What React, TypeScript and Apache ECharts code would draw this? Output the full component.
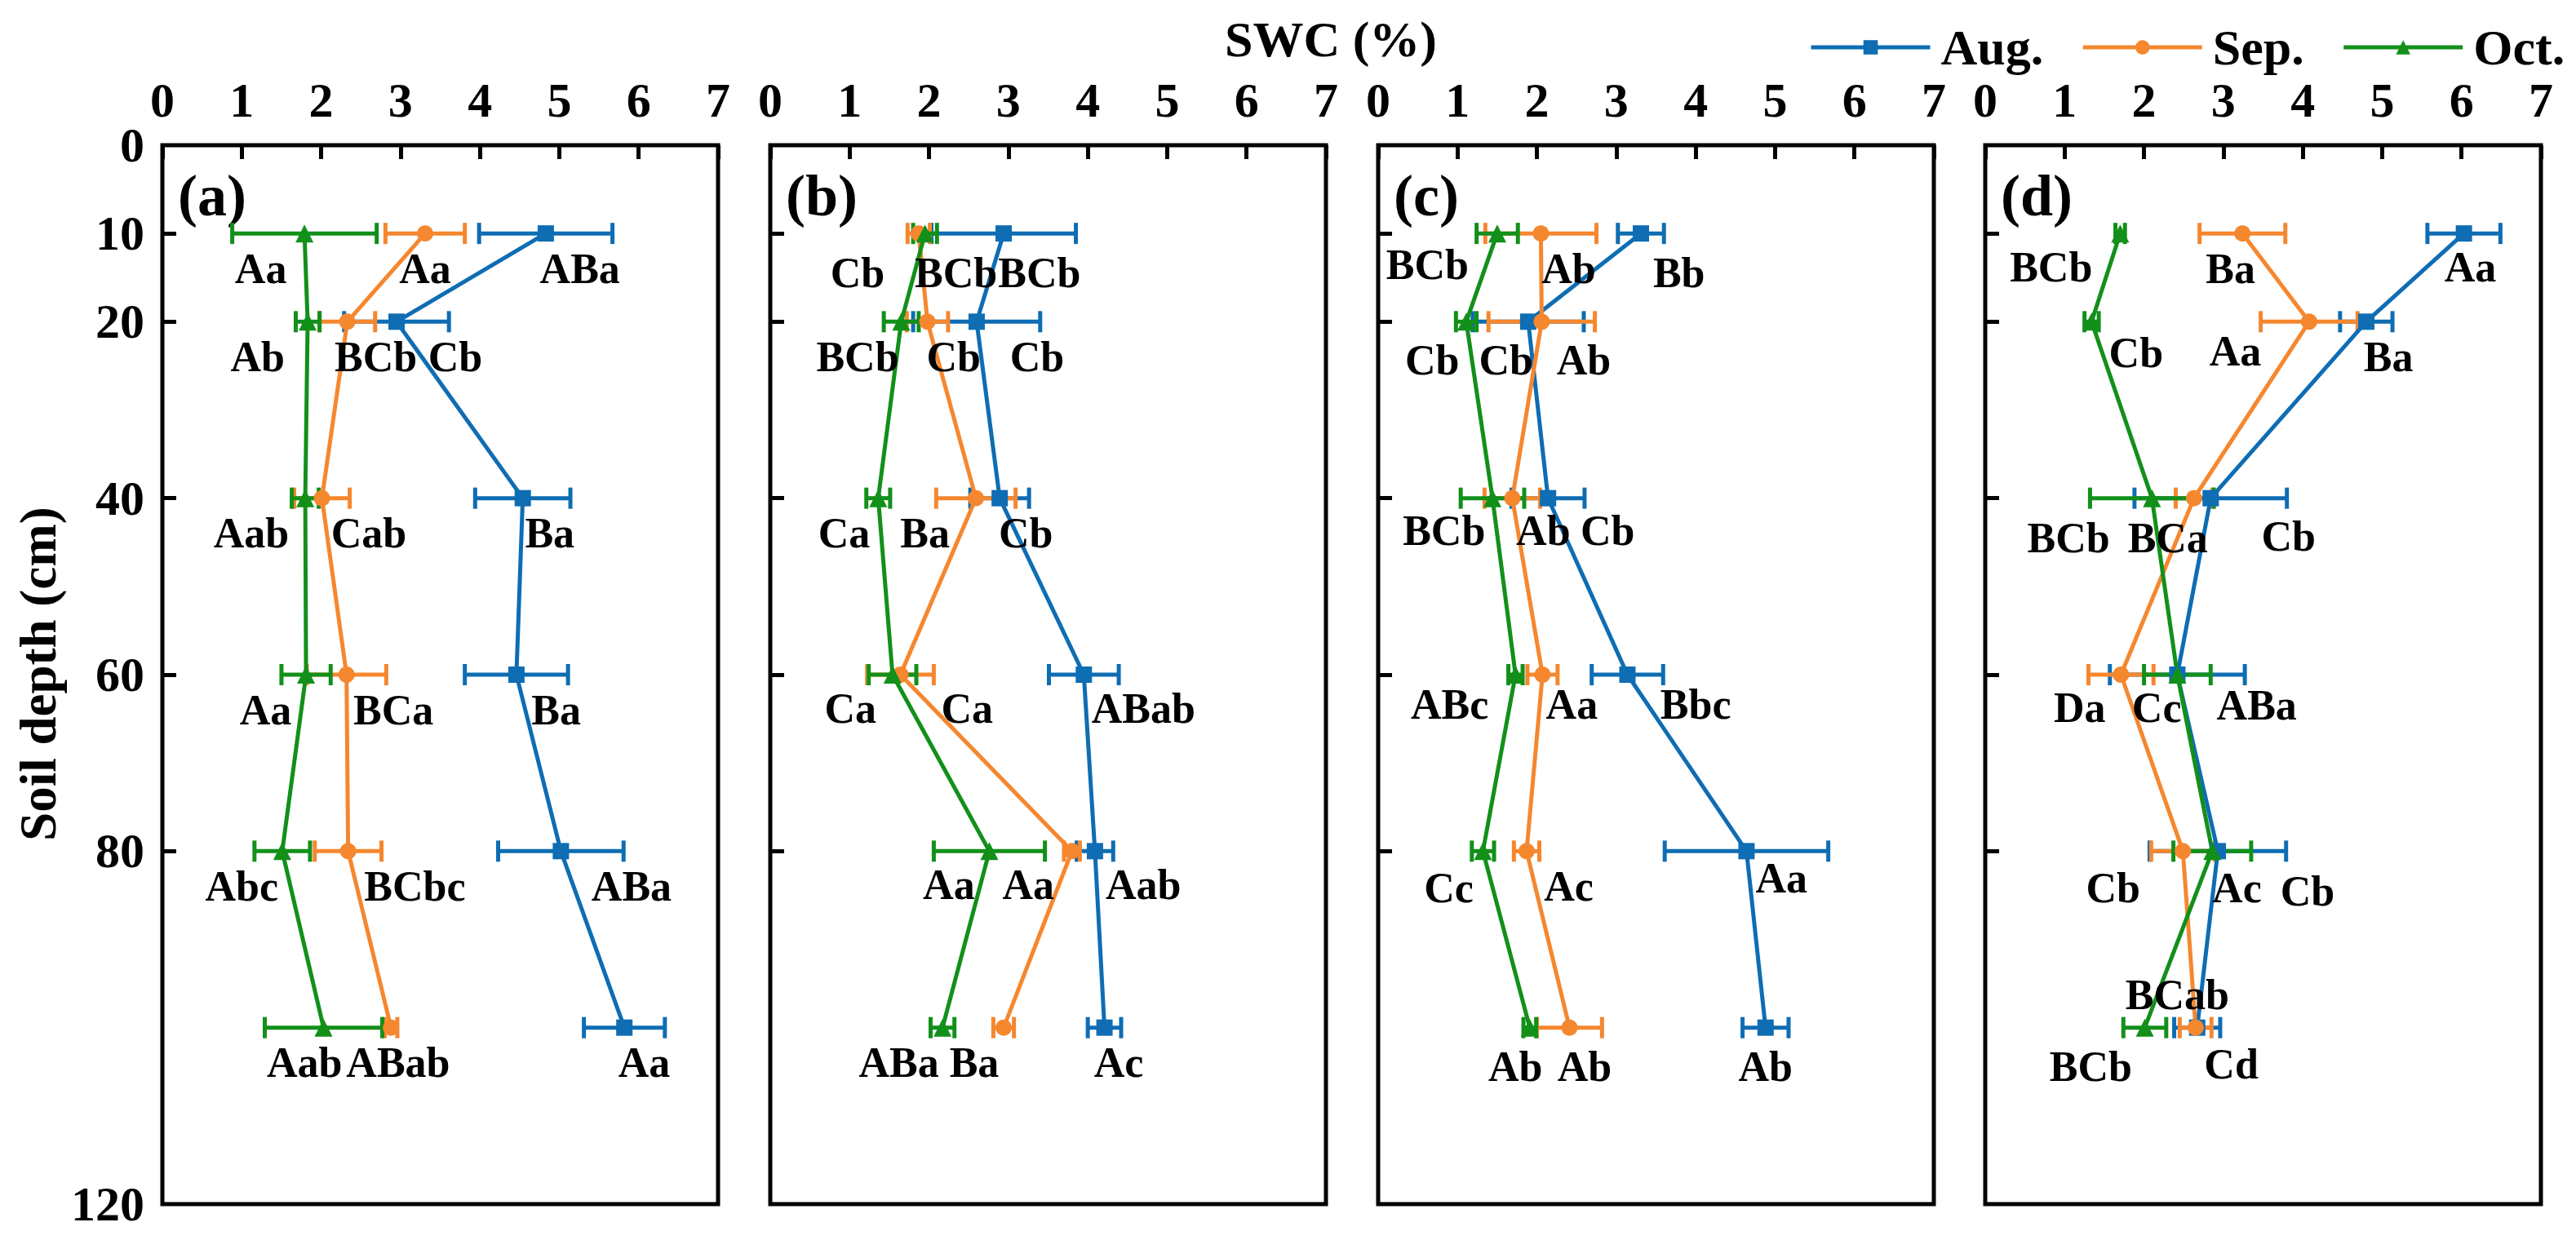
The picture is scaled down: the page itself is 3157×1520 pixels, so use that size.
import React, { useEffect, useRef } from "react";
import * as echarts from "echarts";

// ---------- data ----------
const depths = [10, 20, 40, 60, 80, 100];
const xTicks = [0, 1, 2, 3, 4, 5, 6, 7];
const yLabelValues = [0, 10, 20, 40, 60, 80, 120];
const yTickValues = [10, 20, 40, 60, 80];
const months = ["Aug.", "Sep.", "Oct."];
const panelLetters = ["(a)", "(b)", "(c)", "(d)"];

// panel (a)
const augA = [4.83, 2.95, 4.54, 4.46, 5.02, 5.82];
const augAErr = [0.84, 0.66, 0.6, 0.65, 0.79, 0.51];
const sepA = [3.31, 2.33, 2.01, 2.32, 2.34, 2.88];
const sepAErr = [0.5, 0.35, 0.35, 0.5, 0.42, 0.08];
const octA = [1.79, 1.83, 1.8, 1.81, 1.51, 2.03];
const octAErr = [0.91, 0.15, 0.17, 0.31, 0.35, 0.74];
const labelsA: [number, number, string][] = [
  [1.24, 14, "Aa"], [3.31, 14, "Aa"], [5.26, 14, "ABa"],
  [1.2, 24, "Ab"], [2.69, 24, "BCb"], [3.69, 24, "Cb"],
  [1.12, 44, "Aab"], [2.6, 44, "Cab"], [4.88, 44, "Ba"],
  [1.3, 64, "Aa"], [2.91, 64, "BCa"], [4.96, 64, "Ba"],
  [1.0, 84, "Abc"], [3.18, 84, "BCbc"], [5.91, 84, "ABa"],
  [1.79, 104, "Aab"], [2.97, 104, "ABab"], [6.07, 104, "Aa"],
];

// panel (b)
const augB = [2.94, 2.6, 2.89, 3.95, 4.09, 4.21];
const augBErr = [0.91, 0.8, 0.37, 0.44, 0.23, 0.21];
const sepB = [1.87, 1.98, 2.59, 1.64, 3.8, 2.94];
const sepBErr = [0.14, 0.26, 0.5, 0.42, 0.1, 0.13];
const octB = [1.95, 1.65, 1.36, 1.54, 2.76, 2.17];
const octBErr = [0.15, 0.22, 0.15, 0.3, 0.7, 0.15];
const labelsB: [number, number, string][] = [
  [1.1, 14.5, "Cb"], [2.34, 14.5, "BCb"], [3.39, 14.5, "BCb"],
  [1.1, 24, "BCb"], [2.31, 24, "Cb"], [3.36, 24, "Cb"],
  [0.93, 44, "Ca"], [1.95, 44, "Ba"], [3.22, 44, "Cb"],
  [1.01, 63.8, "Ca"], [2.48, 63.8, "Ca"], [4.7, 63.8, "ABab"],
  [2.25, 83.8, "Aa"], [3.25, 83.8, "Aa"], [4.7, 83.8, "Aab"],
  [1.62, 104, "ABa"], [2.57, 104, "Ba"], [4.39, 104, "Ac"],
];

// panel (c)
const augC = [3.31, 1.89, 2.14, 3.14, 4.64, 4.88];
const augCErr = [0.29, 0.7, 0.46, 0.45, 1.03, 0.29];
const sepC = [2.05, 2.06, 1.69, 2.07, 1.87, 2.41];
const sepCErr = [0.7, 0.67, 0.35, 0.19, 0.16, 0.41];
const octC = [1.5, 1.11, 1.44, 1.73, 1.32, 1.91];
const octCErr = [0.26, 0.13, 0.4, 0.09, 0.14, 0.08];
const labelsC: [number, number, string][] = [
  [0.62, 13.5, "BCb"], [2.4, 14, "Ab"], [3.79, 14.5, "Bb"],
  [0.68, 24.4, "Cb"], [1.61, 24.4, "Cb"], [2.59, 24.4, "Ab"],
  [0.83, 43.7, "BCb"], [2.08, 43.7, "Ab"], [2.89, 43.7, "Cb"],
  [0.9, 63.4, "ABc"], [2.44, 63.4, "Aa"], [4.0, 63.4, "Bbc"],
  [0.89, 84.2, "Cc"], [2.4, 84, "Ac"], [5.08, 83.1, "Aa"],
  [1.73, 104.4, "Ab"], [2.6, 104.4, "Ab"], [4.88, 104.4, "Ab"],
];

// panel (d)
const augD = [6.03, 4.8, 2.84, 2.42, 2.93, 2.67];
const augDErr = [0.46, 0.33, 0.96, 0.85, 0.86, 0.29];
const sepD = [3.24, 4.08, 2.63, 1.71, 2.49, 2.65];
const sepDErr = [0.54, 0.61, 0.23, 0.41, 0.4, 0.2];
const octD = [1.7, 1.34, 2.1, 2.42, 2.86, 2.01];
const octDErr = [0.06, 0.09, 0.78, 0.42, 0.49, 0.27];
const labelsD: [number, number, string][] = [
  [0.83, 13.8, "BCb"], [3.09, 14, "Ba"], [6.11, 13.8, "Aa"],
  [1.9, 23.5, "Cb"], [3.15, 23.3, "Aa"], [5.08, 24, "Ba"],
  [1.05, 44.5, "BCb"], [2.3, 44.5, "BCa"], [3.82, 44.3, "Cb"],
  [1.19, 63.7, "Da"], [2.16, 63.7, "Cc"], [3.42, 63.5, "ABa"],
  [1.61, 84.2, "Cb"], [3.17, 84.2, "Ac"], [4.06, 84.5, "Cb"],
  [2.42, 96.3, "BCab"], [1.33, 104.4, "BCb"], [3.1, 104.1, "Cd"],
];

// ---------- styling ----------
const FONT = "'Liberation Serif', 'Times New Roman', serif";
const COLORS = ["#0e6db3", "#f5872f", "#12901a"];
const SYMBOLS = ["rect", "circle", "triangle"];
const SYMBOL_SIZES = [20, 20, 22];
const GRID_LEFTS = [199, 944, 1689, 2433];
const GRID_WIDTH = 681;
const GRID_TOP = 178;
const GRID_HEIGHT = 1298;

const panels = [
  { vals: [augA, sepA, octA], errs: [augAErr, sepAErr, octAErr], labels: labelsA },
  { vals: [augB, sepB, octB], errs: [augBErr, sepBErr, octBErr], labels: labelsB },
  { vals: [augC, sepC, octC], errs: [augCErr, sepCErr, octCErr], labels: labelsC },
  { vals: [augD, sepD, octD], errs: [augDErr, sepDErr, octDErr], labels: labelsD },
];

function buildOption() {
  const grid: any[] = [];
  const xAxis: any[] = [];
  const yAxis: any[] = [];
  const series: any[] = [];
  const graphic: any[] = [];

  panels.forEach((p, i) => {
    grid.push({
      left: GRID_LEFTS[i],
      top: GRID_TOP,
      width: GRID_WIDTH,
      height: GRID_HEIGHT,
      show: true,
      borderColor: "#000",
      borderWidth: 5,
      backgroundColor: "transparent",
      containLabel: false,
    });
    xAxis.push({
      type: "value",
      gridIndex: i,
      position: "top",
      min: xTicks[0],
      max: xTicks[xTicks.length - 1],
      interval: 1,
      splitLine: { show: false },
      axisLine: { show: false },
      axisTick: { show: true, inside: true, length: 17, lineStyle: { color: "#000", width: 5 } },
      axisLabel: {
        show: true,
        margin: 25,
        fontSize: 60,
        fontWeight: "bold",
        fontFamily: FONT,
        color: "#000",
      },
    });
    yAxis.push({
      type: "value",
      gridIndex: i,
      inverse: true,
      min: 0,
      max: 120,
      interval: 10,
      splitLine: { show: false },
      axisLine: { show: false },
      axisTick: {
        show: true,
        inside: true,
        length: 17,
        customValues: yTickValues,
        lineStyle: { color: "#000", width: 5 },
      },
      axisLabel: {
        show: i === 0,
        customValues: yLabelValues,
        formatter: (v: number) => (yLabelValues.includes(v) ? String(v) : ""),
        margin: 22,
        fontSize: 60,
        fontWeight: "bold",
        fontFamily: FONT,
        color: "#000",
      },
    });

    // error bars
    months.forEach((m, k) => {
      series.push({
        type: "custom",
        name: m + " error " + i,
        xAxisIndex: i,
        yAxisIndex: i,
        z: 2,
        silent: true,
        encode: { x: 0, y: 1 },
        data: depths.map((d, j) => [p.vals[k][j], d, p.errs[k][j]]),
        renderItem: (params: any, api: any) => {
          const x = api.value(0);
          const d = api.value(1);
          const e = api.value(2);
          const a = api.coord([x - e, d]);
          const b = api.coord([x + e, d]);
          const cap = 13;
          const style = { stroke: COLORS[k], lineWidth: 5 };
          return {
            type: "group",
            children: [
              { type: "line", shape: { x1: a[0], y1: a[1], x2: b[0], y2: b[1] }, style },
              { type: "line", shape: { x1: a[0], y1: a[1] - cap, x2: a[0], y2: a[1] + cap }, style },
              { type: "line", shape: { x1: b[0], y1: b[1] - cap, x2: b[0], y2: b[1] + cap }, style },
            ],
          };
        },
      });
    });

    // lines with markers
    months.forEach((m, k) => {
      series.push({
        type: "line",
        name: m,
        xAxisIndex: i,
        yAxisIndex: i,
        z: 3,
        data: depths.map((d, j) => [p.vals[k][j], d]),
        symbol: SYMBOLS[k],
        symbolSize: SYMBOL_SIZES[k],
        showSymbol: true,
        lineStyle: { color: COLORS[k], width: 5 },
        itemStyle: { color: COLORS[k] },
        emphasis: { disabled: true },
      });
    });

    // significance letters (drawn as text through the axes' scales)
    const letterTexts = p.labels.map((l) => l[2]);
    series.push({
      type: "custom",
      name: "letters " + i,
      xAxisIndex: i,
      yAxisIndex: i,
      z: 4,
      silent: true,
      encode: { x: 0, y: 1 },
      data: p.labels.map((l) => [l[0], l[1]]),
      renderItem: (params: any, api: any) => {
        const pt = api.coord([api.value(0), api.value(1)]);
        return {
          type: "text",
          x: pt[0],
          y: pt[1],
          style: {
            text: letterTexts[params.dataIndex],
            fontSize: 52,
            fontWeight: "bold",
            fontFamily: FONT,
            fill: "#000",
            textAlign: "center",
            textVerticalAlign: "middle",
          },
        };
      },
    });

    graphic.push({
      type: "text",
      x: GRID_LEFTS[i] + 19,
      y: 240,
      style: {
        text: panelLetters[i],
        fontSize: 72,
        fontWeight: "bold",
        fontFamily: FONT,
        fill: "#000",
        textAlign: "left",
        textVerticalAlign: "middle",
      },
    });
  });

  graphic.push({
    type: "text",
    x: 1631,
    y: 48,
    style: {
      text: "SWC (%)",
      fontSize: 62,
      fontWeight: "bold",
      fontFamily: FONT,
      fill: "#000",
      textAlign: "center",
      textVerticalAlign: "middle",
    },
  });
  graphic.push({
    type: "text",
    x: 47,
    y: 826,
    rotation: Math.PI / 2,
    style: {
      text: "Soil depth (cm)",
      fontSize: 63,
      fontWeight: "bold",
      fontFamily: FONT,
      fill: "#000",
      textAlign: "center",
      textVerticalAlign: "middle",
    },
  });

  return {
    animation: false,
    backgroundColor: "#fff",
    grid,
    xAxis,
    yAxis,
    series,
    graphic,
    legend: {
      data: months,
      left: 2212,
      top: 22,
      itemWidth: 146,
      itemHeight: 22,
      itemGap: 46,
      selectedMode: false,
      lineStyle: { width: 5 },
      textStyle: {
        fontSize: 62,
        fontWeight: "bold",
        fontFamily: FONT,
        color: "#000",
        padding: [0, 0, 0, 8],
      },
    },
  };
}

export default function App() {
  const ref = useRef<HTMLDivElement>(null);
  useEffect(() => {
    if (!ref.current) return;
    const chart = echarts.init(ref.current, null, { renderer: "svg" });
    chart.setOption(buildOption() as any);
    return () => chart.dispose();
  }, []);
  return (
    <div
      ref={ref}
      style={{ position: "fixed", left: 0, top: 0, width: 3157, height: 1520, background: "#fff" }}
    />
  );
}
